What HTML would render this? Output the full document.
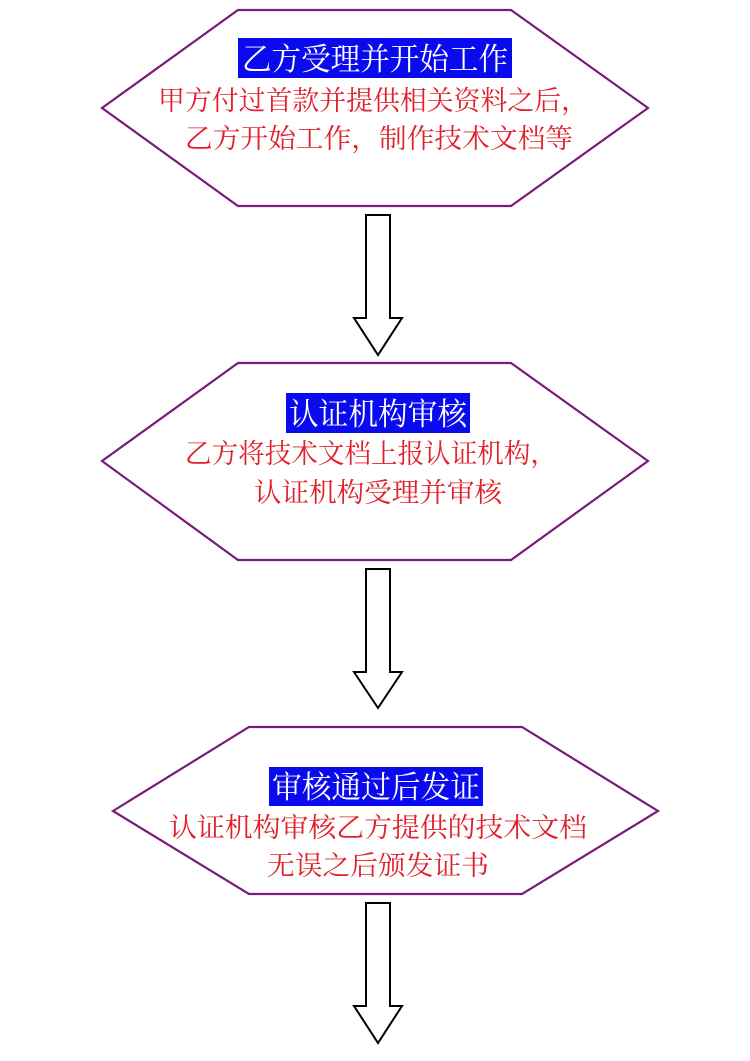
<!DOCTYPE html>
<html><head><meta charset="utf-8"><style>
html,body{margin:0;padding:0;background:#fff;}
svg{display:block;}
text{font-family:"Liberation Serif","Noto Serif CJK SC",serif;}
</style></head><body>
<svg width="750" height="1061" viewBox="0 0 750 1061" xmlns="http://www.w3.org/2000/svg">
<g fill="#fff" stroke="#7a1a7a" stroke-width="2.2">
<polygon points="102,108 238,10 511,10 648,108 511,206 238,206"/>
<polygon points="102,461 238,363 511,363 648,461 511,560 238,560"/>
<polygon points="113,811 249,727 522,727 658,811 522,894 249,894"/>
</g>
<g fill="#fff" stroke="#000" stroke-width="2">
<polygon points="366,215 390,215 390,318 402,318 378,355 354,318 366,318"/>
<polygon points="366,569 390,569 390,672 402,672 378,708 354,672 366,672"/>
<polygon points="366,903 390,903 390,1006 402,1006 378,1043 354,1006 366,1006"/>
</g>
<g fill="#0a0aee">
<rect x="238" y="38" width="274" height="40"/>
<rect x="286" y="393" width="184" height="40"/>
<rect x="269" y="767" width="214" height="39"/>
</g>
<g fill="#fff" font-size="31">
<text x="242" y="70" textLength="266" lengthAdjust="spacingAndGlyphs">乙方受理并开始工作</text>
<text x="289" y="425" textLength="178" lengthAdjust="spacingAndGlyphs">认证机构审核</text>
<text x="272" y="798" textLength="208" lengthAdjust="spacingAndGlyphs">审核通过后发证</text>
</g>
<g fill="#e0202a" font-size="27">
<text x="158" y="110" textLength="430" lengthAdjust="spacingAndGlyphs">甲方付过首款并提供相关资料之后，</text>
<text x="185" y="148" textLength="388" lengthAdjust="spacingAndGlyphs">乙方开始工作，制作技术文档等</text>
<text x="185" y="463" textLength="372" lengthAdjust="spacingAndGlyphs">乙方将技术文档上报认证机构，</text>
<text x="254" y="502" textLength="248" lengthAdjust="spacingAndGlyphs">认证机构受理并审核</text>
<text x="169" y="837" textLength="418" lengthAdjust="spacingAndGlyphs">认证机构审核乙方提供的技术文档</text>
<text x="267" y="875" textLength="222" lengthAdjust="spacingAndGlyphs">无误之后颁发证书</text>
</g>
</svg>
</body></html>
